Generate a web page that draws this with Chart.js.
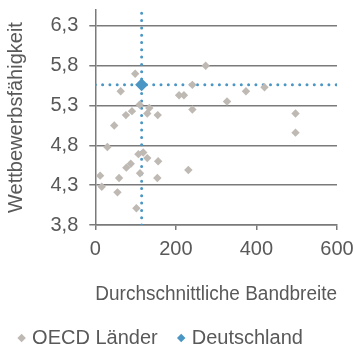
<!DOCTYPE html>
<html>
<head>
<meta charset="utf-8">
<script src="https://cdn.jsdelivr.net/npm/chart.js@4"></script>
<style>
  html, body { margin: 0; padding: 0; background: #ffffff; }
  #wrap { width: 353px; height: 349px; }
</style>
</head>
<body>
<div id="wrap"><canvas id="c" width="353" height="349"></canvas></div>
<script>
// Data
const oecdX = [99, 63, 208, 220, 241, 274, 327, 241, 374, 420, 497, 497, 110, 134, 76, 91, 129, 155, 47, 30, 107, 119, 129, 156, 77, 88, 111, 12, 59, 154, 16, 55, 102, 231];
const oecdY = [5.70, 5.48, 5.43, 5.43, 5.56, 5.80, 5.35, 5.25, 5.48, 5.53, 5.20, 4.96, 5.31, 5.27, 5.18, 5.23, 5.20, 5.18, 5.05, 4.78, 4.69, 4.71, 4.64, 4.60, 4.52, 4.57, 4.45, 4.42, 4.39, 4.39, 4.28, 4.21, 4.01, 4.49];
const deX = [115];
const deY = [5.56];
const seriesNames = ['OECD Länder', 'Deutschland'];
const xTicks = [0, 200, 400, 600];
const yTicks = [3.8, 4.3, 4.8, 5.3, 5.8, 6.3];
const xTitle = 'Durchschnittliche Bandbreite';
const yTitle = 'Wettbewerbsfähigkeit';
const xMin = 0, xMax = 600, yMin = 3.8, yMax = 6.5;

const FONT = "'Liberation Sans', Arial, sans-serif";
const FS = 20;
const TXT = '#595959';
const GRID = '#7a7a7a';
const GRAY = '#bfb9b4';
const BLUE = '#4a96c4';

const oecdPts = oecdX.map((x, i) => ({x: x, y: oecdY[i]}));
const dePts = deX.map((x, i) => ({x: x, y: deY[i]}));

// nudge the legend row slightly left, as in the reference
const legendShift = {
  id: 'legendShift',
  afterLayout(chart) {
    if (chart.legend) { chart.legend.left -= 7; chart.legend.right -= 7; }
  }
};

new Chart(document.getElementById('c'), {
  type: 'scatter',
  plugins: [legendShift],
  data: {
    datasets: [
      { label: seriesNames[0], data: oecdPts, pointStyle: 'rectRot', pointRadius: 4.2,
        backgroundColor: GRAY, borderColor: GRAY, borderWidth: 0, pointHoverRadius: 4.2 },
      { label: seriesNames[1], data: dePts, pointStyle: 'rectRot', pointRadius: 6.5,
        backgroundColor: BLUE, borderColor: BLUE, borderWidth: 0, pointHoverRadius: 6.5 },
      { label: '', data: [{x: deX[0], y: yMin}, {x: deX[0], y: yMax}], showLine: true,
        pointRadius: 0, borderColor: BLUE, borderWidth: 3, borderDash: [0, 7.3], borderCapStyle: 'round' },
      { label: '', data: [{x: xMin, y: deY[0]}, {x: xMax, y: deY[0]}], showLine: true,
        pointRadius: 0, borderColor: BLUE, borderWidth: 3, borderDash: [0, 7.3], borderCapStyle: 'round' }
    ]
  },
  options: {
    responsive: false,
    animation: false,
    layout: { padding: { left: 1, right: 16, top: 10, bottom: -9 } },
    plugins: {
      tooltip: { enabled: false },
      legend: {
        position: 'bottom',
        align: 'center',
        labels: {
          filter: (item) => item.datasetIndex < 2,
          usePointStyle: true,
          pointStyle: 'rectRot',
          boxWidth: 1,
          boxHeight: 6,
          padding: 23,
          color: TXT,
          font: { family: FONT, size: FS }
        }
      }
    },
    scales: {
      x: {
        type: 'linear',
        min: xMin, max: xMax,
        afterBuildTicks: (axis) => { axis.ticks = xTicks.map(v => ({value: v})); },
        afterFit: (axis) => { axis.paddingLeft = 0; axis.paddingRight = 0; },
        ticks: { color: TXT, font: { family: FONT, size: FS }, padding: 7.5, maxRotation: 0 },
        grid: { drawOnChartArea: false, drawTicks: true, tickLength: 5, color: GRID, lineWidth: 1.5 },
        border: { display: true, color: GRID, width: 1.5 },
        title: { display: true, text: xTitle, color: TXT, font: { family: FONT, size: FS },
                 padding: { top: 13, bottom: -1 } }
      },
      y: {
        type: 'linear',
        min: yMin, max: yMax,
        afterBuildTicks: (axis) => { axis.ticks = yTicks.map(v => ({value: v})); },
        afterFit: (axis) => { axis.paddingTop = 0; axis.paddingBottom = 0; },
        ticks: { color: TXT, font: { family: FONT, size: FS }, padding: 11,
                 callback: (v) => Number(v).toFixed(1).replace('.', ',') },
        grid: { drawOnChartArea: true, drawTicks: true, tickLength: 6, color: GRID, lineWidth: 1.5 },
        border: { display: true, color: GRID, width: 1.5 },
        title: { display: true, text: yTitle, color: TXT, font: { family: FONT, size: FS },
                 padding: { top: 3.5, bottom: 11 } }
      }
    }
  }
});
</script>
</body>
</html>
